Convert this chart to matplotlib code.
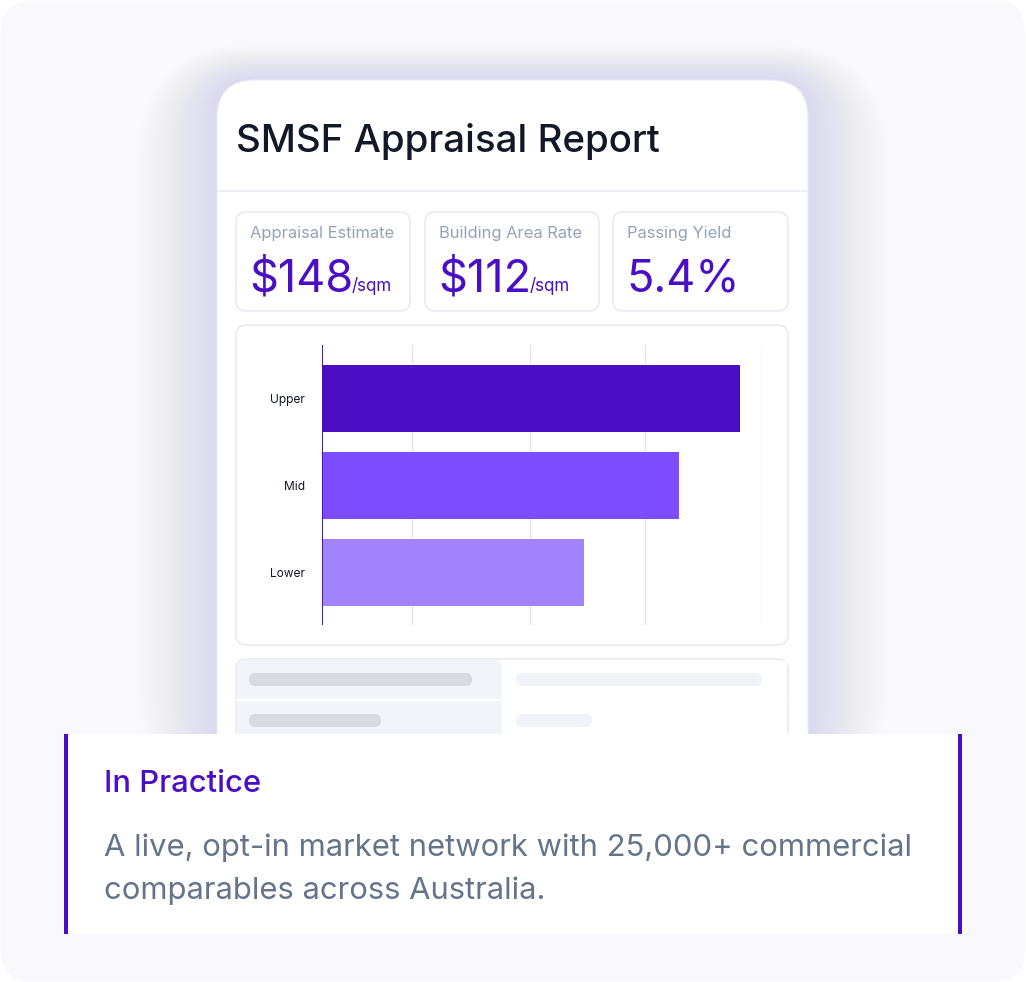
import matplotlib
matplotlib.use("Agg")
import matplotlib.pyplot as plt
from matplotlib.patches import FancyBboxPatch, Rectangle

# ---------------- data ----------------
title = "SMSF Appraisal Report"
kpi_labels = ["Appraisal Estimate", "Building Area Rate", "Passing Yield"]
kpi_values = ["$148", "$112", "5.4%"]
kpi_units = ["/sqm", "/sqm", ""]
categories = ["Lower", "Mid", "Upper"]
values = [107, 146, 171]
bar_colors = ["#A283FE", "#7C4DFF", "#4A0EC5"]
grid_ticks = [37, 85, 132, 180]
x_max = 180
callout_title = "In Practice"
callout_lines = ["A live, opt-in market network with 25,000+ commercial",
                 "comparables across Australia."]

W, H = 1026, 982
FONT = ["Inter", "DejaVu Sans"]
PURPLE = "#4A0EC5"

fig = plt.figure(figsize=(W / 100, H / 100), dpi=100)
fig.patch.set_facecolor("white")
bg = fig.add_axes([0, 0, 1, 1])
bg.set_xlim(0, W)
bg.set_ylim(H, 0)
bg.axis("off")


def rrect(x0, y0, x1, y1, r, fc, ec="none", lw=0, z=1, alpha=1.0):
    p = FancyBboxPatch((x0 + r, y0 + r), (x1 - x0) - 2 * r, (y1 - y0) - 2 * r,
                       boxstyle=f"round,pad={r}", fc=fc, ec=ec, lw=lw,
                       zorder=z, alpha=alpha, mutation_aspect=1)
    bg.add_patch(p)
    return p


def px(v):  # pixels -> points
    return v * 0.72


# outer background
rrect(1, 1, W - 1, H - 1, 30, "#F8F8FD", z=0)

# card shadow (soft glow)
for i in range(30):
    g = 80 - i * 2.6
    rrect(217 - g, 80 - g * 0.45, 808 + g, 760 + g * 0.5, 40 + g, "#8A78F0", z=1, alpha=0.0032)

# card
rrect(217, 80, 808, 790, 38, "white", ec="#ECEAF4", lw=0.8, z=2)
bg.text(236, 152, title, fontsize=px(38.5), color="#111827", family=FONT,
        fontweight="medium", va="baseline", ha="left", zorder=3)
bg.plot([218, 807], [191, 191], color="#EEF0F3", lw=1.5, zorder=3)

# KPI cards
kpi_x = [(236, 410), (425, 599), (613, 788)]
for (x0, x1), lab, val, unit in zip(kpi_x, kpi_labels, kpi_values, kpi_units):
    rrect(x0, 212, x1, 311, 10, "white", ec="#E6E8EC", lw=1.0, z=3)
    bg.text(x0 + 14, 238, lab, fontsize=px(16.5), color="#94A3B8", family=FONT,
            va="baseline", ha="left", zorder=4)
    t = bg.text(x0 + 13, 291, val, fontsize=px(45), color=PURPLE, family=FONT,
                va="baseline", ha="left", zorder=4)
    if unit:
        fig.canvas.draw()
        bb = t.get_window_extent()
        xe = bg.transData.inverted().transform((bb.x1, bb.y0))[0]
        bg.text(xe - 1, 291, unit, fontsize=px(17), color=PURPLE, family=FONT,
                va="baseline", ha="left", zorder=4)

# chart card
rrect(236, 325, 788, 645, 10, "white", ec="#E6E8EC", lw=1.0, z=3)

ax = fig.add_axes([322 / W, 1 - 625 / H, 440 / W, 280 / H], zorder=5)
ax.patch.set_alpha(0)
ypos = list(range(len(categories)))
ax.barh(ypos, values, height=0.77, color=bar_colors, zorder=3)
ax.set_xlim(0, x_max)
ax.set_ylim(-0.6, 2.615)
for g in grid_ticks:
    ax.axvline(g, color="#E2E6EE", lw=1.0, zorder=1)
ax.axvline(0, color=PURPLE, lw=1.4, zorder=4)
for s in ax.spines.values():
    s.set_visible(False)
ax.set_xticks([])
ax.set_yticks(ypos)
ax.set_yticklabels(categories, family=FONT, fontsize=px(12), color="#111827")
ax.tick_params(axis="y", length=0, pad=12.5)

# table skeleton
rrect(236, 659, 788, 790, 10, "white", ec="#E6E8EC", lw=1.0, z=3)
bg.add_patch(Rectangle((237, 665), 265, 120, fc="#F1F4F8", ec="none", zorder=3))
rrect(237, 660, 502, 680, 8, "#F1F4F8", z=3)
bg.add_patch(Rectangle((502, 661), 285, 6, fc="white", ec="none", zorder=3))
bg.plot([237, 787], [700, 700], color="white", lw=1.5, zorder=4)
rrect(249, 673, 472, 686, 6.5, "#D7DAE0", z=4)
rrect(516, 673, 762, 686, 6.5, "#F0F3F7", z=4)
rrect(249, 714, 381, 727, 6.5, "#D7DAE0", z=4)
rrect(516, 714, 592, 727, 6.5, "#F0F3F7", z=4)

# callout
bg.add_patch(Rectangle((64, 734), 898, 200, fc="white", ec="none", zorder=10))
bg.add_patch(Rectangle((64, 734), 4, 200, fc=PURPLE, ec="none", zorder=11))
bg.add_patch(Rectangle((958, 734), 4, 200, fc=PURPLE, ec="none", zorder=11))
bg.text(104, 792, callout_title, fontsize=px(31), color=PURPLE, family=FONT,
        fontweight="medium", va="baseline", ha="left", zorder=12)
for i, line in enumerate(callout_lines):
    bg.text(104, 856 + i * 43, line, fontsize=px(31), color="#64748B", family=FONT,
            va="baseline", ha="left", zorder=12)

fig.savefig("out.png", dpi=100, facecolor="white")
